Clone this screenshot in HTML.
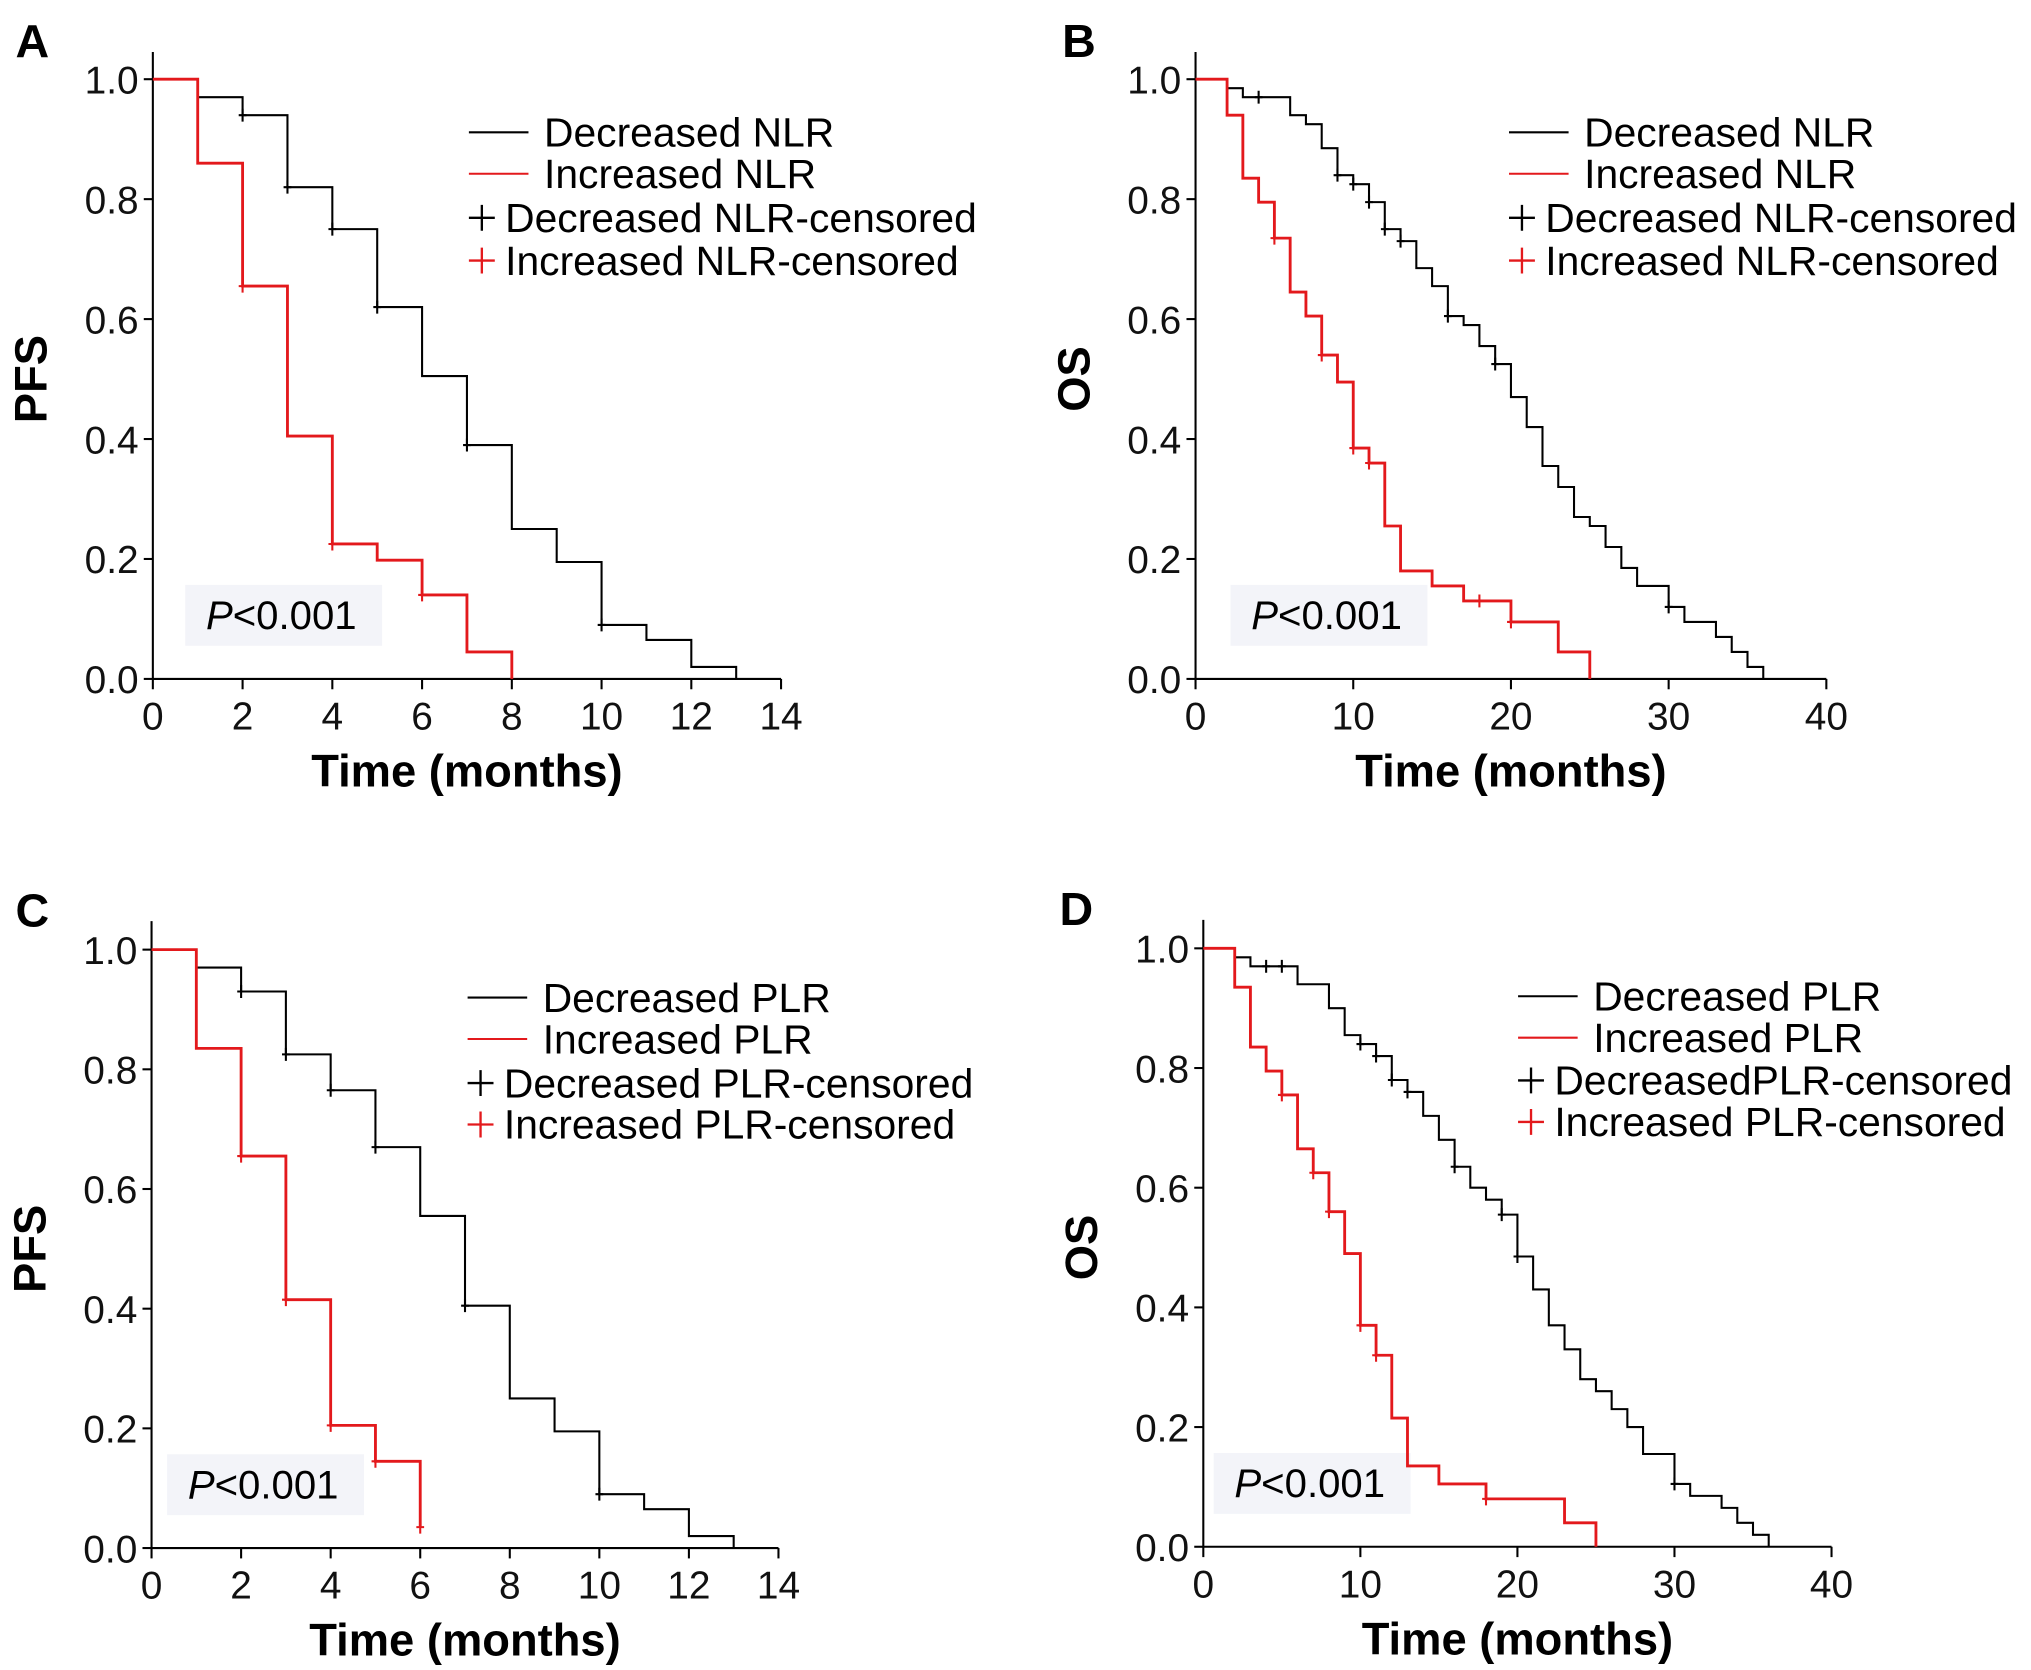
<!DOCTYPE html>
<html><head><meta charset="utf-8">
<style>html,body{margin:0;padding:0;background:#fff}svg{display:block}</style>
</head><body>
<svg id="fig" width="2031" height="1670" viewBox="0 0 1568 1289" xmlns="http://www.w3.org/2000/svg" font-family="Liberation Sans, Arial, sans-serif"></svg>
<script>
// Panel A: PFS by NLR
const aTimes = [0,1,2,3,4,5,6,7,8,9,10,11,12,13];
const aDecS  = [1,0.97,0.94,0.82,0.75,0.62,0.505,0.39,0.25,0.195,0.09,0.065,0.02,0];
const aDecC  = [2,3,4,5,7,10];
const aIncT  = [0,1,2,3,4,5,6,7,8];
const aIncS  = [1,0.86,0.655,0.405,0.225,0.198,0.14,0.045,0];
const aIncC  = [2,4,6];
// Panel B: OS by NLR
const bTimes = [0,2,3,6,7,8,9,10,11,12,13,14,15,16,17,18,19,20,21,22,23,24,25,26,27,28,30,31,33,34,35,36];
const bDecS  = [1,0.985,0.97,0.94,0.925,0.885,0.84,0.825,0.795,0.75,0.73,0.685,0.655,0.605,0.59,0.555,0.525,0.47,0.42,0.355,0.32,0.27,0.255,0.22,0.185,0.155,0.12,0.095,0.07,0.045,0.02,0];
const bDecC  = [4,9,10,11,12,13,16,19,30];
const bIncT  = [0,2,3,4,5,6,7,8,9,10,11,12,13,15,17,20,23,25];
const bIncS  = [1,0.94,0.835,0.795,0.735,0.645,0.605,0.54,0.495,0.385,0.36,0.255,0.18,0.155,0.13,0.095,0.045,0];
const bIncC  = [5,8,10,11,18,20];
// Panel C: PFS by PLR
const cTimes = [0,1,2,3,4,5,6,7,8,9,10,11,12,13];
const cDecS  = [1,0.97,0.93,0.825,0.765,0.67,0.555,0.405,0.25,0.195,0.09,0.065,0.02,0];
const cDecC  = [2,3,4,5,7,10];
const cIncT  = [0,1,2,3,4,5,6];
const cIncS  = [1,0.835,0.655,0.415,0.205,0.145,0.035];
const cIncC  = [2,3,4,5,6];
// Panel D: OS by PLR
const dTimes = [0,2,3,6,8,9,10,11,12,13,14,15,16,17,18,19,20,21,22,23,24,25,26,27,28,30,31,33,34,35,36];
const dDecS  = [1,0.985,0.97,0.94,0.9,0.855,0.84,0.82,0.78,0.76,0.72,0.68,0.635,0.6,0.58,0.555,0.485,0.43,0.37,0.33,0.28,0.26,0.23,0.2,0.155,0.105,0.085,0.065,0.04,0.02,0];
const dDecC  = [4,5,10,11,12,13,16,19,20,30];
const dIncT  = [0,2,3,4,5,6,7,8,9,10,11,12,13,15,18,23,25];
const dIncS  = [1,0.935,0.835,0.795,0.755,0.665,0.625,0.56,0.49,0.37,0.32,0.215,0.135,0.105,0.08,0.04,0];
const dIncC  = [5,7,8,10,11,18];

const yTicks = ["0.0","0.2","0.4","0.6","0.8","1.0"];
const xTicksPFS = [0,2,4,6,8,10,12,14];
const xTicksOS = [0,10,20,30,40];

const NS = "http://www.w3.org/2000/svg";
const svg = document.getElementById('fig');
function el(tag, attrs, parent, text){
  const e = document.createElementNS(NS, tag);
  for (const k in attrs) e.setAttribute(k, attrs[k]);
  if (text !== undefined) e.textContent = text;
  (parent||svg).appendChild(e);
  return e;
}
function stepValue(times, surv, t){
  let v = surv[0];
  for (let i=0;i<times.length;i++){ if (times[i] <= t) v = surv[i]; }
  return v;
}
function panel(cfg){
  const g = el('g', {});
  
  
  const X = t => cfg.x0 + t / cfg.xmax * (cfg.x1 - cfg.x0);
  const Y = v => cfg.y0 + v * (cfg.y1 - cfg.y0);
  const ax = el('line', {x1:cfg.x0, y1:cfg.top, x2:cfg.x0, y2:cfg.y0, stroke:'#000','stroke-width':1.6}, g);
   
  const bx = el('line', {x1:cfg.x0, y1:cfg.y0, x2:cfg.x1, y2:cfg.y0, stroke:'#000','stroke-width':1.6}, g);
   
  yTicks.forEach(s => {
    const v = parseFloat(s);
    el('line', {x1:cfg.x0-7, y1:Y(v), x2:cfg.x0, y2:Y(v), stroke:'#000','stroke-width':1.6}, g);
    const t = el('text', {x:cfg.x0-11, y:Y(v)+11, 'text-anchor':'end','font-size':30, fill:'#111'}, g, s);
     
  });
  cfg.xticks.forEach(v => {
    el('line', {x1:X(v), y1:cfg.y0, x2:X(v), y2:cfg.y0+8, stroke:'#000','stroke-width':1.6}, g);
    const t = el('text', {x:X(v), y:cfg.y0+39, 'text-anchor':'middle','font-size':30, fill:'#111'}, g, String(v));
     
  });
  const xt = el('text', {x:(cfg.x0+cfg.x1)/2, y:cfg.y0+83, 'text-anchor':'middle','font-size':35,'font-weight':'bold'}, g, 'Time (months)');
   
  const yt = el('text', {x:0, y:0, 'text-anchor':'middle','font-size':35,'font-weight':'bold', transform:`translate(${cfg.x0-82},${(cfg.y0+cfg.y1)/2}) rotate(-90)`}, g, cfg.ylabel);
   
  const lt = el('text', {x:cfg.letterX, y:cfg.top+4, 'font-size':36,'font-weight':'bold'}, g, cfg.letter);
   
  const pb = el('rect', {x:cfg.px, y:Y(0.2)+20, width:152, height:47, fill:'#f3f4f9'}, g);
   
  const pt = el('text', {x:cfg.px+16, y:Y(0.2)+54, 'font-size':31}, g);
   
  el('tspan', {'font-style':'italic'}, pt, 'P');
  el('tspan', {}, pt, '<0.001');
  const series = [
    {t:cfg.decT, s:cfg.decS, c:cfg.decC, col:'#000', w:1.6, name:'curve-decreased'},
    {t:cfg.incT, s:cfg.incS, c:cfg.incC, col:'#e3191c', w:2.2, name:'curve-increased'}
  ];
  series.forEach(sr => {
    let d = `M${X(sr.t[0])},${Y(sr.s[0])}`;
    for (let i=1;i<sr.t.length;i++){
      d += ` H${X(sr.t[i])} V${Y(sr.s[i])}`;
    }
    const p = el('path', {d, fill:'none', stroke:sr.col, 'stroke-width':sr.w}, g);
     
    sr.c.forEach(ct => {
      const v = stepValue(sr.t, sr.s, ct);
      const m = el('path', {d:`M${X(ct)},${Y(v)-5} V${Y(v)+5} M${X(ct)-3},${Y(v)} H${X(ct)+3}`, stroke:sr.col,'stroke-width':1.6}, g);
       
    });
  });
  const lg = el('g', {}, g);
   
  const rows = [
    {type:'line', col:'#000', label:cfg.leg[0]},
    {type:'line', col:'#e3191c', label:cfg.leg[1]},
    {type:'plus', col:'#000', label:cfg.leg[2]},
    {type:'plus', col:'#e3191c', label:cfg.leg[3]}
  ];
  rows.forEach((r,i) => {
    const yy = cfg.legY[i];
    if (r.type==='line'){
      el('line', {x1:cfg.legX, y1:yy, x2:cfg.legX+46, y2:yy, stroke:r.col,'stroke-width':1.6}, lg);
      const t = el('text', {x:cfg.legX+58, y:yy+11, 'font-size':31.5}, lg, r.label);
       
    } else {
      el('path', {d:`M${cfg.legX+10},${yy-10} V${yy+10} M${cfg.legX},${yy} H${cfg.legX+20}`, stroke:r.col,'stroke-width':1.8}, lg);
      const t = el('text', {x:cfg.legX+28, y:yy+11, 'font-size':31.5}, lg, r.label);
       
    }
  });
}
panel({name:'panel-a', letter:'A', letterX:12, ylabel:'PFS', x0:118, x1:603, xmax:14, y0:524, y1:61, top:40,
  xticks:xTicksPFS, decT:aTimes, decS:aDecS, decC:aDecC, incT:aIncT, incS:aIncS, incC:aIncC,
  px:143, legX:362, legY:[102,134,168,201],
  leg:['Decreased NLR','Increased NLR','Decreased NLR-censored','Increased NLR-censored']});
panel({name:'panel-b', letter:'B', letterX:820, ylabel:'OS', x0:923, x1:1410, xmax:40, y0:524, y1:61, top:40,
  xticks:xTicksOS, decT:bTimes, decS:bDecS, decC:bDecC, incT:bIncT, incS:bIncS, incC:bIncC,
  px:950, legX:1165, legY:[102,134,168,201],
  leg:['Decreased NLR','Increased NLR','Decreased NLR-censored','Increased NLR-censored']});
panel({name:'panel-c', letter:'C', letterX:12, ylabel:'PFS', x0:117, x1:601, xmax:14, y0:1195, y1:733, top:711,
  xticks:xTicksPFS, decT:cTimes, decS:cDecS, decC:cDecC, incT:cIncT, incS:cIncS, incC:cIncC,
  px:129, legX:361, legY:[770,802,836,868],
  leg:['Decreased PLR','Increased PLR','Decreased PLR-censored','Increased PLR-censored']});
panel({name:'panel-d', letter:'D', letterX:818, ylabel:'OS', x0:929, x1:1414, xmax:40, y0:1194, y1:732, top:710,
  xticks:xTicksOS, decT:dTimes, decS:dDecS, decC:dDecC, incT:dIncT, incS:dIncS, incC:dIncC,
  px:937, legX:1172, legY:[769,801,834,866],
  leg:['Decreased PLR','Increased PLR','DecreasedPLR-censored','Increased PLR-censored']});
</script>
</body></html>
